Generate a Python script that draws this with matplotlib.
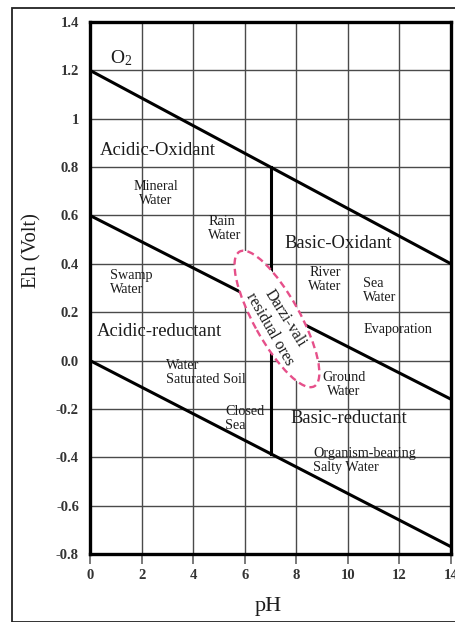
import numpy as np
import matplotlib
matplotlib.use("Agg")
import matplotlib.pyplot as plt
from matplotlib.patches import Ellipse, Rectangle
from matplotlib.transforms import ScaledTranslation

plt.rcParams["font.family"] = ["Liberation Serif", "DejaVu Serif"]
plt.rcParams["mathtext.fontset"] = "custom"
plt.rcParams["mathtext.rm"] = "Liberation Serif"
plt.rcParams["mathtext.it"] = "Liberation Serif:italic"

# ---- data -------------------------------------------------------------
ph_ticks = [0, 2, 4, 6, 8, 10, 12, 14]
ph_tick_labels = ["0", "2", "4", "6", "8", "10", "12", "14"]
eh_ticks = [-0.8, -0.6, -0.4, -0.2, 0.0, 0.2, 0.4, 0.6, 0.8, 1.0, 1.2, 1.4]
eh_tick_labels = ["-0.8", "-0.6", "-0.4", "-0.2", "0.0", "0.2", "0.4",
                  "0.6", "0.8", "1", "1.2", "1.4"]

# Stability boundaries: Eh at pH 0 and pH 14
boundary_ph = [0, 14]
upper_eh = [1.2, 0.4]
middle_eh = [0.6, -0.16]
lower_eh = [0.0, -0.77]

# Acid / base divide at neutral pH
neutral_ph = 7.0

# Environment labels: (text, pH, Eh, horizontal alignment)
region_labels = [
    ("Acidic-Oxidant", 2.64, 0.867, "center"),
    ("Basic-Oxidant", 9.62, 0.486, "center"),
    ("Acidic-reductant", 2.70, 0.122, "center"),
    ("Basic-reductant", 10.02, -0.238, "center"),
]
water_labels = [
    ("Mineral\nWater", 2.56, 0.691, "center"),
    ("Rain\nWater", 4.58, 0.548, "left"),
    ("Swamp\nWater", 0.78, 0.321, "left"),
    ("Water\nSaturated Soil", 2.95, -0.051, "left"),
    ("Closed\nSea", 5.24, -0.240, "left"),
    ("River\nWater", 9.11, 0.335, "center"),
    ("Sea\nWater", 10.59, 0.290, "left"),
    ("Evaporation", 10.59, 0.130, "left"),
    ("Ground\nWater", 9.85, -0.099, "center"),
    ("Organism-bearing\nSalty Water", 8.65, -0.413, "left"),
]

# Study area field (Darzi-vali residual ores)
ore_center_ph, ore_center_eh = 7.25, 0.172

# ---- figure -----------------------------------------------------------
W, H = 455, 622
fig = plt.figure(figsize=(W / 100, H / 100), dpi=100)
ax = fig.add_axes([90 / W, 68 / H, 361 / W, 532 / H])

# outer frame of the figure panel
fig.patches.append(Rectangle((12 / W, 0), 1.0, 1 - 7.5 / H, transform=fig.transFigure,
                             fill=False, edgecolor="#222222", linewidth=1.3,
                             clip_on=False))

ax.set_xlim(0, 14)
ax.set_ylim(-0.8, 1.4)
ax.set_xticks(ph_ticks)
ax.set_xticklabels(ph_tick_labels)
ax.set_yticks(eh_ticks)
ax.set_yticklabels(eh_tick_labels)
ax.grid(True, color="#4a4a4a", linewidth=1.0)
ax.set_axisbelow(True)

for s in ax.spines.values():
    s.set_linewidth(2.4)
    s.set_color("black")

ax.tick_params(axis="x", length=7, width=1.1, color="#555555", pad=4,
               labelsize=10.5, labelcolor="#333333")
ax.tick_params(axis="y", length=0, pad=8, labelsize=10.5, labelcolor="#333333")
for lab in ax.get_xticklabels() + ax.get_yticklabels():
    lab.set_fontweight("bold")

# boundary lines
for eh in (upper_eh, middle_eh, lower_eh):
    ax.plot(boundary_ph, eh, color="black", linewidth=2.2, zorder=3,
            solid_capstyle="butt")

# neutral divide between upper and lower boundaries
def line_at(eh, ph):
    return np.interp(ph, boundary_ph, eh)

ax.plot([neutral_ph, neutral_ph],
        [line_at(upper_eh, neutral_ph), line_at(lower_eh, neutral_ph)],
        color="black", linewidth=2.2, zorder=3)

# ore field ellipse (size given in inches, centred on its pH/Eh position)
ell = Ellipse((0, 0), width=1.54, height=0.46, angle=-61,
              transform=fig.dpi_scale_trans
              + ScaledTranslation(ore_center_ph, ore_center_eh, ax.transData),
              facecolor="white", edgecolor="#e6508a", linewidth=1.7,
              linestyle=(0, (3.0, 1.8)), zorder=4)
ax.add_patch(ell)

txt_color = "#1c1c1c"
ax.text(7.58, 0.176, "Darzi-vali", rotation=-58, rotation_mode="anchor",
        ha="center", va="center", fontsize=11.5, color=txt_color, zorder=5)
ax.text(6.96, 0.130, "residual ores", rotation=-60, rotation_mode="anchor",
        ha="center", va="center", fontsize=11.5, color=txt_color, zorder=5)

for text, x, y, ha in region_labels:
    ax.text(x, y, text, ha=ha, va="center", fontsize=13.4, color=txt_color,
            zorder=5)
for text, x, y, ha in water_labels:
    ax.text(x, y, text, ha=ha, va="center", fontsize=10.2, color=txt_color,
            linespacing=1.1, zorder=5)

ax.text(1.20, 1.251, r"$\mathrm{O}_{2}$", ha="center", va="center",
        fontsize=14, color=txt_color, zorder=5)

fig.text(32 / W, 1 - 251 / H, "Eh (Volt)", rotation=90, ha="center",
         va="center", fontsize=14.8, color=txt_color)
fig.text(268 / W, 1 - 607 / H, "pH", ha="center", va="center",
         fontsize=16, color=txt_color)

fig.savefig("out.png", dpi=100)
